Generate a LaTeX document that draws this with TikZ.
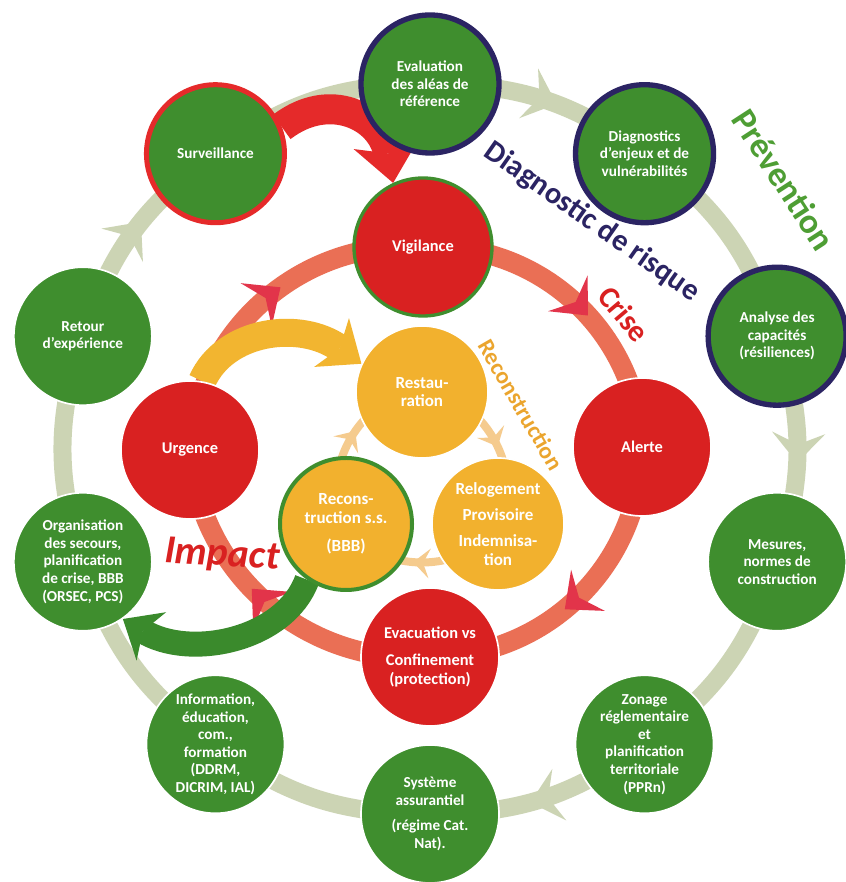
\documentclass[tikz,border=0pt]{standalone}
\usepackage{fontspec}
\setmainfont{Carlito}
\usetikzlibrary{arrows.meta,decorations.markings,backgrounds,calc}
\pgfdeclarelayer{mid}
\pgfsetlayers{background,mid,main}
\definecolor{gfill}{HTML}{3F8E2E}
\definecolor{rfill}{HTML}{D92121}
\definecolor{ofill}{HTML}{F2B12E}
\definecolor{navy}{HTML}{2B2463}
\definecolor{sage}{HTML}{CCD4B4}
\definecolor{crisecol}{HTML}{EA6F55}
\definecolor{crisetip}{HTML}{E2344A}
\definecolor{innercol}{HTML}{F5CB8E}
\definecolor{bigred}{HTML}{E52A2A}
\definecolor{bigyel}{HTML}{F2B530}
\definecolor{biggreen}{HTML}{3A8A2C}
\definecolor{prevcol}{HTML}{4E9E34}
\definecolor{recocol}{HTML}{EBA52E}
\tikzset{
  bubble/.style={circle, minimum size=41.4mm, inner sep=0pt, align=center, text=white,
    font=\bfseries\fontsize{13}{15}\selectfont, draw=white, line width=0.5mm},
  gbub/.style={bubble, fill=gfill},
  nbub/.style={gbub, draw=navy, line width=1.6mm},
  rbub/.style={bubble, fill=rfill, font=\bfseries\fontsize{14}{16}\selectfont},
  obub/.style={bubble, fill=ofill, minimum size=39.6mm, font=\bfseries\fontsize{14.5}{16}\selectfont},
  outerband/.style={draw=sage, line width=5.4mm},
  outerarr/.style={outerband, postaction={decorate}, decoration={markings,
    mark=at position 0.56 with {\arrow{Stealth[length=9mm,width=16mm,inset=3.5mm,line width=0pt,color=sage]}}}},
  criseband/.style={draw=crisecol, line width=6mm, postaction={decorate}, decoration={markings,
    mark=at position 0.56 with {\arrow{Stealth[length=9mm,width=16mm,inset=3.5mm,line width=0pt,color=crisetip]}}}},
  innerband/.style={draw=innercol, line width=2.4mm, postaction={decorate}, decoration={markings,
    mark=at position 0.55 with {\arrow{Stealth[length=5mm,width=9mm,inset=2mm,line width=0pt,color=innercol]}}}},
  labeltxt/.style={inner sep=0pt, font=\bfseries\fontsize{#1}{#1}\selectfont},
}
\begin{document}
\begin{tikzpicture}[x=0.3mm,y=0.3mm]
\useasboundingbox (0,0) rectangle (845,882);
\coordinate (C) at (430,433);
% outer ring nodes
\node[nbub] (eval) at ($(C)+(90:365)$) {Evaluation\\des aléas de\\référence};
\node[nbub] (diag) at ($(C)+(54:365)$) {Diagnostics\\d’enjeux et de\\vulnérabilités};
\node[nbub] (anal) at ($(C)+(18:365)$) {Analyse des\\capacités\\(résiliences)};
\node[gbub] (mes) at ($(C)+(-18:365)$) {Mesures,\\normes de\\construction};
\node[gbub] (zon) at ($(C)+(-54:365)$) {Zonage\\réglementaire\\et\\planification\\territoriale\\(PPRn)};
\node[gbub] (sys) at ($(C)+(-90:365)$) {Système\\assurantiel\\[7pt](régime Cat.\\Nat).};
\node[gbub] (info) at ($(C)+(-126:365)$) {Information,\\éducation,\\com.,\\formation\\(DDRM,\\DICRIM, IAL)};
\node[gbub] (org) at ($(C)+(-162:365)$) {Organisation\\des secours,\\planification\\de crise, BBB\\(ORSEC, PCS)};
\node[gbub] (ret) at ($(C)+(162:365)$) {Retour\\d’expérience};
\node[gbub, draw=bigred, line width=1.5mm] (surv) at ($(C)+(126:365)$) {Surveillance};
% crisis ring nodes
\node[rbub, draw=gfill, line width=1mm] (vig) at (423,635) {Vigilance};
\node[rbub] (alerte) at (642,435) {Alerte};
\node[rbub] (evac) at (430,225) {Evacuation vs\\[7pt]Confinement\\(protection)};
\node[rbub] (urg) at (190,432) {Urgence};
% reconstruction nodes
\node[obub] (rest) at (422,490) {Restau-\\ration};
\node[obub, draw=gfill, line width=1.2mm] (recon) at (346,358) {Recons-\\truction s.s.\\[8pt](BBB)};
\node[obub] (relog) at (498,358) {Relogement\\[6pt]Provisoire\\[6pt]Indemnisa-\\tion};
% labels
\node[labeltxt=30, text=prevcol, rotate=-57] (prev) at (784,702) {Prévention};
\node[labeltxt=26, text=navy, rotate=-35] (diaglab) at (592,660) {Diagnostic de risque};
\node[labeltxt=26, text=rfill, rotate=-50] (criselab) at (624,568) {Crise};
\node[labeltxt=20, text=recocol, rotate=-60] (recolab) at (521,477) {Reconstruction};
\node[labeltxt=34, text=rfill, font=\bfseries\itshape\fontsize{34}{34}\selectfont, rotate=-3] (impact) at (222,326) {Impact};
% rings
\begin{pgfonlayer}{background}
  \fill[white] (0,0) rectangle (845,882);
  \draw[outerarr] (eval.center) to[bend left=18] (diag.center);
  \draw[outerband] (diag.center) to[bend left=18] (anal.center);
  \draw[outerarr] (anal.center) to[bend left=18] (mes.center);
  \draw[outerband] (mes.center) to[bend left=18] (zon.center);
  \draw[outerarr] (zon.center) to[bend left=18] (sys.center);
  \draw[outerband] (sys.center) to[bend left=18] (info.center);
  \draw[outerband] (info.center) to[bend left=18] (org.center);
  \draw[outerband] (org.center) to[bend left=18] (ret.center);
  \draw[outerarr] (ret.center) to[bend left=18] (surv.center);
  \draw[outerband] (surv.center) to[bend left=18] (eval.center);
  \draw[criseband] (vig.center) to[bend left=45] (alerte.center);
  \draw[criseband] (alerte.center) to[bend left=45] (evac.center);
  \draw[criseband] (evac.center) to[bend left=45] (urg.center);
  \draw[criseband] (urg.center) to[bend left=45] (vig.center);
  \draw[innerband] (rest.center) to[bend left=60] (relog.center);
  \draw[innerband] (relog.center) to[bend left=60] (recon.center);
  \draw[innerband] (recon.center) to[bend left=60] (rest.center);
\end{pgfonlayer}
% big arrows
\begin{pgfonlayer}{mid}
  \draw[draw=bigred, line width=9mm, -{Stealth[length=12mm,width=20mm,inset=3mm,line width=0pt]}]
    (surv.22) .. controls (330,792) and (382,765) .. (vig.115);
  \draw[draw=bigyel, line width=8.4mm, -{Stealth[length=11mm,width=18mm,inset=3mm,line width=0pt]}]
    (urg.80) .. controls (225,552) and (300,562) .. (rest.155);
  \draw[draw=biggreen, line width=7.5mm, -{Stealth[length=10mm,width=17mm,inset=3mm,line width=0pt]}]
    (recon.235) .. controls (285,242) and (190,222) .. (org.-55);
\end{pgfonlayer}
\end{tikzpicture}
\end{document}
